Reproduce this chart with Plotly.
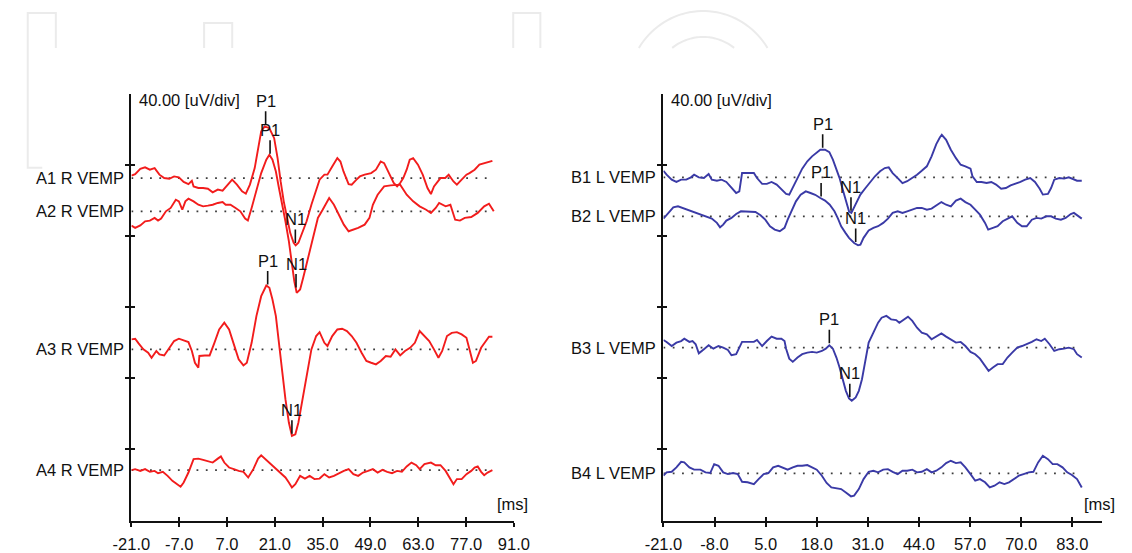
import numpy as np
import plotly.graph_objects as go

# ---------------------------------------------------------------------------
# VEMP recordings: time (ms) and amplitude (uV) relative to each channel baseline
# ---------------------------------------------------------------------------
A1_T = [-21.0, -19.9, -18.4, -17.0, -15.6, -14.2, -12.8, -11.4, -9.9, -8.5, -7.1, -5.7, -4.3, -3.3, -2.8,
        -1.4, 0.0, 1.4, 2.8, 4.3, 5.7, 7.1, 8.5, 9.9, 11.4, 12.5, 13.7, 15.1, 16.1, 17.0, 18.0, 19.4, 20.8,
        21.8, 22.7, 23.6, 24.6, 25.5, 26.5, 27.1, 27.9, 28.8, 30.3, 31.7, 33.1, 34.1, 35.5, 36.4, 37.8,
        39.3, 40.2, 41.1, 42.6, 43.5, 44.9, 45.9, 47.3, 49.2, 50.6, 52.0, 53.0, 54.4, 55.8, 56.8, 57.7,
        58.6, 59.6, 60.5, 61.5, 62.9, 64.3, 65.7, 66.7, 67.6, 68.6, 69.5, 70.9, 71.9, 73.3, 74.3, 75.7,
        77.1, 78.0, 79.5, 80.9, 82.3, 83.7, 84.7]
A1_V = [1.3, 2.2, 5.2, 6.0, 4.7, 5.6, 1.9, 0, -0.4, 0.9, 0.4, -2.2, -3.4, -1.5, -4.7,
        -5.6, -5.6, -6.0, -8.0, -6.5, -7.1, -4.1, -0.9, -3.7, -7.5, -8.8, -3.7, 5.6, 16.8, 26.2, 29.0, 28.0, 22.4,
        11.2, -1.9, -13.1, -22.4, -30.8, -36.4, -37.8, -36.4, -31.8, -24.3, -15.0, -7.5, -0.9, 1.9, 1.9, 6.5,
        11.2, 9.3, 3.7, -3.4, -3.7, -0.9, 0.9, 1.9, 2.8, 4.7, 9.3, 8.4, 2.8, -2.8, -4.7, -2.8,
        0, 4.7, 10.3, 11.2, 7.5, 1.9, -5.6, -9.0, -4.7, -1.9, 0, 0, 1.9, -1.9, -3.7, -0.9,
        1.9, 2.8, 4.7, 7.5, 8.4, 9.3, 9.7]

A2_T = [-21.0, -19.9, -18.4, -17.0, -15.6, -14.2, -13.2, -12.3, -10.9, -9.5, -8.0, -7.1, -6.1, -5.2, -4.3,
        -2.8, -1.4, 0.0, 1.4, 2.8, 4.3, 5.7, 6.6, 8.0, 9.5, 10.9, 12.3, 13.1, 14.2, 15.6, 17.0, 18.5, 19.4,
        20.3, 21.3, 22.2, 23.2, 24.1, 25.1, 26.0, 26.7, 27.4, 28.4, 29.3, 30.7, 32.2, 33.6, 35.0, 36.9,
        38.3, 39.7, 41.2, 42.6, 44.0, 45.4, 47.3, 48.7, 49.7, 51.1, 53.0, 54.9, 57.7, 59.6, 61.5, 63.4,
        65.3, 66.7, 68.1, 69.1, 71.0, 72.4, 73.8, 75.2, 76.6, 78.5, 80.4, 82.3, 83.7, 85.1]
A2_V = [-8.0, -9.3, -7.9, -5.6, -5.2, -3.7, -5.2, -4.1, 0, 1.9, 6.5, 5.6, 0.9, 5.6, 7.1,
        5.6, 3.7, 2.8, 3.2, 3.7, 4.7, 5.2, 3.7, 3.7, 1.9, 0, -4.1, -5.2, 1.9, 11.2, 21.5, 29.0, 31.8,
        29.0, 22.4, 13.1, 3.7, -5.6, -16.8, -29.9, -39.3, -45.8, -43.9, -37.4, -26.2, -15.0, -3.7, 0.9, 7.5,
        3.7, -1.9, -7.5, -11.2, -10.3, -9.3, -7.5, -3.7, 3.7, 9.3, 14.0, 14.6, 15.0, 9.3, 5.6, 2.8,
        0.9, -0.9, 1.9, 4.7, 2.8, 3.7, -4.7, -5.2, -3.7, -3.2, -0.9, 2.8, 4.3, 0]

A3_T = [-21.0, -19.9, -18.9, -17.5, -16.1, -15.1, -13.7, -12.8, -11.4, -9.9, -8.5, -7.1, -5.7, -4.3, -3.3,
        -2.4, -1.4, -1.1, 0.5, 1.9, 3.3, 4.7, 6.2, 7.6, 9.0, 10.4, 11.8, 12.8, 14.2, 15.6, 17.0, 18.5, 19.4,
        20.3, 21.3, 22.2, 23.2, 24.1, 25.1, 26.0, 27.0, 27.9, 28.9, 30.3, 31.7, 33.1, 34.1, 35.5, 36.4,
        37.8, 39.3, 40.7, 42.1, 43.5, 44.9, 46.4, 47.8, 49.2, 50.6, 52.0, 53.5, 54.9, 56.3, 57.7, 59.1,
        60.6, 62.0, 63.4, 64.8, 66.2, 67.6, 68.9, 70.0, 71.4, 72.8, 74.3, 75.7, 77.1, 78.0, 79.0, 79.9,
        81.4, 82.8, 83.7, 84.7]
A3_V = [5.6, 6.0, 3.4, 0, -1.9, -4.7, -0.9, -2.8, -3.4, 0.9, 4.7, 6.0, 5.2, 4.1, -0.9,
        -7.5, -10.3, -3.7, -3.4, -3.4, 3.7, 11.2, 15.0, 11.2, 2.8, -5.6, -9.0, -7.5, 3.7, 18.7, 29.9, 35.9, 34.6,
        28.0, 18.7, 1.9, -13.1, -28.0, -41.1, -48.6, -47.7, -41.1, -29.9, -15.0, 0, 7.5, 9.7, 3.7, 1.9,
        7.5, 11.2, 11.6, 10.3, 7.5, 3.7, -1.9, -6.5, -7.5, -8.4, -6.5, -3.7, -4.1, 0, -3.4, -0.9,
        0.9, 3.7, 10.3, 7.5, 4.7, 0, -4.7, -0.9, 7.5, 9.3, 9.7, 8.4, 6.5, 0, -7.5, -6.5,
        0.9, 4.7, 7.1, 7.1]

A4_T = [-21.0, -19.9, -18.4, -17.0, -15.6, -14.2, -13.2, -11.8, -10.4, -9.0, -7.6, -6.6, -5.7, -4.3, -2.8,
        -1.4, 0.0, 1.4, 2.8, 4.3, 5.2, 6.2, 7.6, 9.0, 10.4, 11.8, 13.2, 14.7, 16.1, 17.0, 18.5, 19.9, 21.3,
        22.7, 24.1, 25.1, 26.0, 27.0, 28.4, 29.8, 31.2, 32.6, 34.1, 35.5, 36.9, 38.3, 39.7, 41.2, 42.6,
        44.0, 45.4, 46.8, 48.3, 49.7, 51.1, 52.5, 53.9, 55.3, 56.8, 58.2, 59.6, 61.0, 62.4, 63.4, 64.8,
        66.7, 68.1, 69.5, 71.0, 72.4, 73.3, 74.3, 75.7, 77.1, 78.5, 79.5, 80.4, 81.4, 82.3, 83.3, 84.7]
A4_V = [0, 0.6, -0.4, 0.6, -0.9, -0.4, -1.7, -0.9, -3.2, -6.0, -7.9, -9.3, -6.9, -1.3, 6.2,
        6.5, 5.8, 5.2, 4.3, 6.5, 7.7, 4.3, 1.5, 0.6, -0.4, -0.9, -4.1, 0.6, 6.5, 8.4, 5.8, 3.4, 0.9,
        -1.3, -4.1, -6.9, -9.7, -7.9, -3.2, -4.7, -3.2, -5.0, -4.7, -2.2, -4.1, -3.2, -1.7, -0.4, 0.6,
        -2.2, -3.2, -1.3, -0.4, 0.6, -1.3, 0.2, -0.9, -1.7, -0.4, -0.9, 2.1, 4.3, 2.8, 0.6, 3.4,
        4.3, 2.8, 2.8, -0.4, -5.0, -7.9, -5.0, -5.0, -2.2, -0.4, 1.5, 2.1, -0.9, -2.8, -1.3, 0]

B1_T = [-21.0, -20.2, -18.9, -17.7, -16.5, -15.2, -14.0, -13.2, -12.0, -10.7, -9.5, -8.7, -7.4, -6.2, -5.0,
        -3.7, -2.5, -1.7, -1.0, 0.4, 2.0, 2.8, 4.1, 5.3, 6.5, 7.8, 9.0, 10.2, 11.0, 11.9, 13.1, 14.3, 15.6,
        16.8, 18.0, 18.9, 20.1, 21.2, 22.1, 23.0, 23.8, 24.6, 25.4, 26.2, 26.8, 27.9, 29.1, 30.4, 31.6,
        32.8, 34.1, 35.3, 36.3, 37.3, 38.6, 39.8, 41.0, 42.3, 43.5, 44.7, 46.0, 47.2, 48.4, 49.3, 49.8,
        50.9, 52.1, 53.4, 54.6, 55.8, 57.1, 57.6, 58.7, 59.9, 61.2, 62.4, 63.6, 64.9, 66.1, 67.3, 68.6,
        69.8, 71.0, 72.3, 73.5, 74.7, 75.5, 76.8, 77.6, 78.4, 79.7, 80.9, 82.1, 83.4, 84.2, 85.4]
B1_V = [3.7, 1.5, -1.3, -2.6, -1.3, -1.3, 0, 1.5, 0, -0.4, 1.9, -1.3, -1.9, -1.3, -2.6,
        -6.0, -8.8, -7.9, 2.4, 2.4, 2.4, -0.4, -3.7, -3.7, -2.6, -4.1, -6.9, -9.3, -9.7, -6.0, -0.4, 4.9, 9.0,
        11.8, 14.2, 15.5, 15.5, 14.2, 9.9, 4.9, -0.4, -6.9, -13.5, -19.1, -20.0, -15.3, -9.7, -6.0, -2.6,
        0.6, 3.4, 5.2, 5.6, 2.4, -0.4, -3.2, -2.2, -0.4, 1.5, 3.7, 6.2, 11.8, 18.7, 22.4, 23.9,
        21.1, 15.5, 10.8, 7.1, 6.2, 4.9, 0.6, -2.6, -2.6, -3.2, -2.6, -4.1, -6.4, -6.0, -4.5, -3.7,
        -2.6, -1.3, -0.4, -2.6, -6.4, -9.7, -9.3, -6.0, -1.3, -0.4, -0.7, 0, -1.3, -1.9, -1.9]

B2_T = [-21.0, -19.8, -18.5, -17.3, -16.1, -14.8, -13.6, -12.4, -11.1, -9.9, -8.7, -7.4, -6.6, -5.8, -5.0,
        -3.7, -2.5, -1.3, 0.0, 1.6, 2.4, 3.7, 4.9, 6.1, 7.3, 8.6, 9.8, 10.6, 11.5, 12.7, 13.9, 15.2, 16.4,
        17.6, 18.9, 20.1, 21.3, 22.5, 23.4, 24.2, 25.3, 26.2, 27.5, 28.5, 29.1, 29.9, 31.2, 32.4, 33.6,
        34.9, 36.1, 37.3, 38.6, 39.8, 41.0, 42.3, 43.5, 44.7, 46.0, 47.2, 48.4, 49.7, 50.9, 52.1, 53.4,
        54.6, 55.8, 57.1, 58.3, 59.5, 60.8, 61.6, 62.8, 64.0, 65.3, 66.5, 67.7, 69.0, 70.2, 71.4, 72.7,
        73.9, 75.1, 76.4, 77.6, 78.8, 80.1, 81.3, 82.6, 83.4, 84.6, 85.4]
B2_V = [-1.3, 1.9, 5.0, 5.6, 4.7, 3.7, 2.8, 1.9, 0.6, 0, -1.3, -3.7, -6.2, -4.7, -2.4,
        -0.9, 1.3, 2.8, 2.8, 2.8, 2.4, 0.6, -1.9, -5.6, -7.5, -8.4, -6.5, -1.9, 2.8, 8.4, 12.1, 14.0, 13.1,
        12.1, 10.3, 8.8, 6.5, 2.8, -1.3, -5.6, -9.3, -12.1, -15.0, -16.3, -15.9, -12.1, -8.0, -6.5, -5.6,
        -3.7, -1.3, 1.9, 2.8, 1.9, 2.8, 3.7, 4.7, 4.7, 3.7, 4.3, 6.2, 8.0, 6.5, 5.6, 8.8,
        9.9, 8.0, 6.5, 3.7, 0.9, -3.7, -7.5, -6.5, -5.6, -2.8, -1.3, 0, -3.7, -5.6, -5.6, -1.9,
        -0.9, -1.3, 0, 0, -1.3, -1.9, -0.9, 1.3, 1.9, 0, -1.3]

B3_T = [-21.0, -20.2, -18.9, -17.7, -16.5, -15.7, -14.4, -13.6, -12.8, -12.0, -10.7, -9.5, -8.3, -7.0, -5.8,
        -4.6, -3.7, -2.5, -1.0, 0.4, 2.0, 2.8, 4.1, 5.3, 6.5, 7.8, 9.0, 9.8, 10.2, 11.0, 11.9, 13.1, 14.3,
        15.6, 16.8, 18.0, 19.3, 20.3, 21.2, 22.1, 23.0, 23.8, 24.6, 25.4, 26.2, 26.9, 27.9, 28.7, 29.5,
        30.4, 31.2, 32.4, 33.6, 34.5, 35.7, 36.9, 38.2, 39.0, 40.2, 41.2, 42.3, 43.5, 44.7, 46.0, 47.2,
        48.4, 49.7, 50.9, 52.1, 53.4, 54.6, 55.8, 57.1, 58.3, 59.5, 60.8, 61.7, 62.8, 64.0, 65.3, 66.5,
        67.7, 69.0, 70.2, 71.4, 72.7, 73.9, 75.1, 76.0, 77.2, 78.4, 79.7, 80.9, 82.1, 83.4, 84.2, 85.4]
B3_V = [4.3, 3.2, 0.9, 2.8, 3.7, 5.0, 3.2, 3.7, 1.9, -3.2, -0.9, 1.3, -0.6, 0.9, 0,
        -1.3, -4.3, -3.7, 3.2, 3.2, 3.2, 4.3, 0.9, 3.7, 6.2, 5.0, 5.0, 3.7, -0.6, -6.2, -8.0, -5.6, -3.7,
        -2.8, -2.4, -2.8, -1.9, -0.6, 1.3, -0.6, -5.6, -11.2, -17.8, -24.3, -28.6, -29.9, -28.0, -24.3, -17.8,
        -5.6, 2.8, 8.4, 14.0, 16.8, 17.8, 15.9, 15.5, 14.0, 15.9, 17.4, 15.0, 11.2, 8.4, 7.5, 4.7,
        6.5, 8.0, 6.2, 4.7, 2.8, 3.2, 0.9, -2.4, -3.7, -6.2, -10.3, -13.1, -11.2, -9.3, -9.3, -5.6,
        -2.8, 0, 0.9, 1.9, 3.2, 4.7, 3.7, 5.0, 1.9, -1.9, -0.9, -0.6, 0, -0.9, -3.7, -5.6]

B4_T = [-21.0, -20.2, -18.9, -17.7, -16.5, -15.7, -14.4, -13.2, -11.6, -10.3, -9.1, -8.1, -7.0, -5.8, -4.6,
        -3.3, -2.1, -1.0, 0.4, 2.0, 3.2, 4.5, 5.7, 6.9, 8.2, 9.4, 10.6, 11.9, 13.1, 14.3, 15.6, 16.8, 18.0,
        19.3, 20.5, 21.7, 23.0, 24.2, 25.4, 26.7, 27.5, 28.7, 29.9, 31.2, 32.4, 33.6, 34.9, 36.1, 37.3,
        38.6, 39.8, 41.0, 42.3, 43.5, 44.7, 46.0, 47.2, 48.4, 49.7, 50.9, 52.1, 53.4, 54.6, 55.8, 57.1,
        58.3, 59.5, 60.8, 62.0, 63.2, 64.5, 65.7, 66.9, 68.2, 69.4, 70.6, 71.9, 73.1, 74.3, 75.5, 76.8,
        78.0, 79.2, 80.5, 81.7, 82.9, 84.2, 85.4]
B4_V = [-1.3, 0.6, 0.9, 3.4, 6.5, 6.2, 3.4, 2.1, 2.1, 0.6, 0.2, 5.2, 4.3, 0.6, -0.4,
        0.2, -0.4, -4.7, -5.0, -6.0, -3.2, -0.4, 0.2, 3.4, 4.3, 3.4, 2.1, 3.4, 4.3, 4.3, 4.7, 3.4, 2.1,
        -1.3, -5.4, -7.9, -8.4, -8.8, -10.7, -12.9, -12.5, -8.8, -3.2, 0.9, 1.5, 0.6, 2.1, 2.4, 0.9,
        -0.4, 1.5, 1.5, 2.1, 0.6, 0.9, 2.4, 0.6, 1.5, 3.4, 5.8, 7.1, 5.8, 6.2, 3.4, -0.4,
        -4.1, -3.2, -5.0, -7.9, -6.9, -5.0, -6.0, -5.0, -3.2, -1.3, -0.4, 0.6, 0.9, 6.2, 9.9, 8.0,
        5.2, 5.2, 3.4, 0.6, -0.9, -3.2, -7.9]

# Channel names and baseline offsets (uV above the time axis)
LEFT_NAMES = ["A1 R VEMP", "A2 R VEMP", "A3 R VEMP", "A4 R VEMP"]
LEFT_BASE = [192.5, 173.8, 96.2, 28.3]
RIGHT_NAMES = ["B1 L VEMP", "B2 L VEMP", "B3 L VEMP", "B4 L VEMP"]
RIGHT_BASE = [192.9, 171.0, 97.2, 26.5]

# Peak markers: (channel index, label, latency ms)
LEFT_MARKS = [(0, "P1", 18.3), (0, "N1", 27.0), (1, "P1", 19.6), (1, "N1", 27.2),
              (2, "P1", 18.9), (2, "N1", 26.0)]
RIGHT_MARKS = [(0, "P1", 19.5), (0, "N1", 26.7), (1, "P1", 19.1), (1, "N1", 27.9),
               (2, "P1", 21.2), (2, "N1", 26.4)]

# Axis ticks
LEFT_XTICKS = [-21, -7, 7, 21, 35, 49, 63, 77, 91]
RIGHT_XTICKS = [-21, -8, 5, 18, 31, 44, 57, 70, 83]
Y_TICKS = [40, 80, 120, 160, 200]
SCALE_TEXT = "40.00 [uV/div]"
UNIT_TEXT = "[ms]"

# ---------------------------------------------------------------------------
W, H = 1132, 553
FONT = "Liberation Sans, Arial, sans-serif"
INK = "#111111"
RED = "#f21c1c"
BLUE = "#3a3aa6"

LEFT_CH = [(A1_T, A1_V), (A2_T, A2_V), (A3_T, A3_V), (A4_T, A4_V)]
RIGHT_CH = [(B1_T, B1_V), (B2_T, B2_V), (B3_T, B3_V), (B4_T, B4_V)]

Y_DOMAIN = [(H - 521.5) / H, (H - 93.7) / H]
LEFT_DOMAIN = [116 / W, 510.7 / W]
RIGHT_DOMAIN = [665 / W, 1118 / W]

fig = go.Figure()


def add_panel(channels, bases, color, xa, ya):
    for (t, v), base in zip(channels, bases):
        # dotted baseline
        fig.add_trace(go.Scatter(
            x=[t[0], t[-1]], y=[base, base], mode="lines", xaxis=xa, yaxis=ya,
            line=dict(color="#3c3c3c", width=1.8, dash="1.8px,7.5px"),
            showlegend=False, hoverinfo="skip"))
    for (t, v), base in zip(channels, bases):
        fig.add_trace(go.Scatter(
            x=t, y=base + np.asarray(v), mode="lines", xaxis=xa, yaxis=ya,
            line=dict(color=color, width=1.9), showlegend=False, hoverinfo="skip"))


add_panel(LEFT_CH, LEFT_BASE, RED, "x", "y")
add_panel(RIGHT_CH, RIGHT_BASE, BLUE, "x2", "y2")

# empty traces that bring up the overlay axes (inner halves of the crossing ticks)
for xa, ya in (("x3", "y3"), ("x4", "y4")):
    fig.add_trace(go.Scatter(x=[], y=[], xaxis=xa, yaxis=ya, showlegend=False, hoverinfo="skip"))

annotations = []


def panel_text(channels, bases, names, marks, xref, yref, xdom, ydom, unit_shift):
    for name, base in zip(names, bases):
        annotations.append(dict(
            xref=xdom, yref=yref, x=0, y=base, xanchor="right", yanchor="middle", xshift=-5,
            text=name, showarrow=False, font=dict(family=FONT, size=16.5, color=INK)))
    annotations.append(dict(
        xref=xdom, yref=ydom, x=0, y=1, xanchor="left", yanchor="middle", xshift=6, yshift=-6,
        text=SCALE_TEXT, showarrow=False, font=dict(family=FONT, size=16.5, color=INK)))
    annotations.append(dict(
        xref=xdom, yref=ydom, x=1, y=0, xanchor="center", yanchor="middle", xshift=unit_shift, yshift=17,
        text=UNIT_TEXT, showarrow=False, font=dict(family=FONT, size=16.5, color=INK)))
    for ch, label, t in marks:
        tt, vv = channels[ch]
        yv = bases[ch] + float(np.interp(t, tt, vv))
        annotations.append(dict(
            xref=xref, yref=yref, x=t, y=yv, text=label, showarrow=True, arrowhead=0,
            arrowwidth=1.6, arrowcolor=INK, ax=0, ay=-26, standoff=2,
            font=dict(family=FONT, size=16.5, color=INK)))


panel_text(LEFT_CH, LEFT_BASE, LEFT_NAMES, LEFT_MARKS, "x", "y", "x domain", "y domain", -1.5)
panel_text(RIGHT_CH, RIGHT_BASE, RIGHT_NAMES, RIGHT_MARKS, "x2", "y2", "x2 domain", "y2 domain", -2.5)


# faint publisher watermark along the top edge
def px_path(points):
    return "M " + " L ".join(f"{x / W:.5f},{1 - y / H:.5f}" for x, y in points)


wm_shapes = []
wm_style = dict(type="path", xref="paper", yref="paper", layer="below",
                line=dict(color="#ebebeb", width=2))
wm_shapes.append(dict(path=px_path([(38, 48), (38, 13), (9, 13), (9, 168), (24, 168)]), **wm_style))
wm_shapes.append(dict(path=px_path([(191, 48), (191, 23), (220, 23), (220, 48)]), **wm_style))
wm_shapes.append(dict(path=px_path([(510, 48), (510, 13), (538, 13), (538, 48)]), **wm_style))
for r in (78, 52):
    half_w = np.sqrt(r * r - 41 * 41)
    th = np.linspace(np.arccos(-half_w / r), np.arccos(half_w / r), 40)
    pts = [(706 + r * np.cos(a), 89 - r * np.sin(a)) for a in th]
    wm_shapes.append(dict(path=px_path(pts), **wm_style))


def xaxis_main(domain, rng, ticks):
    return dict(domain=domain, range=rng, showline=True, linecolor=INK, linewidth=2,
                ticks="outside", ticklen=4, tickwidth=1.6, tickcolor=INK,
                tickvals=ticks, ticktext=[f"{v:.1f}" for v in ticks],
                tickfont=dict(family=FONT, size=16.5, color=INK), ticklabelstandoff=4,
                showgrid=False, zeroline=False, fixedrange=True)


def yaxis_main(domain):
    return dict(domain=domain, range=[0, 240], showline=True, linecolor=INK, linewidth=2,
                ticks="outside", ticklen=4, tickwidth=1.6, tickcolor=INK,
                tickvals=Y_TICKS, showticklabels=False, showgrid=False, zeroline=False,
                fixedrange=True)


def overlay_x(over, rng, ticks, anchor):
    return dict(overlaying=over, range=rng, anchor=anchor, side="bottom", showline=False,
                ticks="inside", ticklen=4, tickwidth=1.6, tickcolor=INK, tickvals=ticks,
                showticklabels=False, showgrid=False, zeroline=False, fixedrange=True)


def overlay_y(over, anchor):
    return dict(overlaying=over, range=[0, 240], anchor=anchor, side="left", showline=False,
                ticks="inside", ticklen=4, tickwidth=1.6, tickcolor=INK, tickvals=Y_TICKS,
                showticklabels=False, showgrid=False, zeroline=False, fixedrange=True)


left_range = [-21, 91]
right_range = [-21, -21 + (1118 - 665) / 4.057]

fig.update_layout(
    width=W, height=H, margin=dict(l=0, r=0, t=0, b=0),
    paper_bgcolor="white", plot_bgcolor="white", showlegend=False,
    xaxis=dict(anchor="y", **xaxis_main(LEFT_DOMAIN, left_range, LEFT_XTICKS)),
    yaxis=dict(anchor="x", **yaxis_main(Y_DOMAIN)),
    xaxis2=dict(anchor="y2", **xaxis_main(RIGHT_DOMAIN, right_range, RIGHT_XTICKS)),
    yaxis2=dict(anchor="x2", **yaxis_main(Y_DOMAIN)),
    xaxis3=overlay_x("x", left_range, LEFT_XTICKS, "y3"),
    yaxis3=overlay_y("y", "x3"),
    xaxis4=overlay_x("x2", right_range, RIGHT_XTICKS, "y4"),
    yaxis4=overlay_y("y2", "x4"),
    annotations=annotations,
    shapes=wm_shapes,
)

fig.write_html("out.html")
